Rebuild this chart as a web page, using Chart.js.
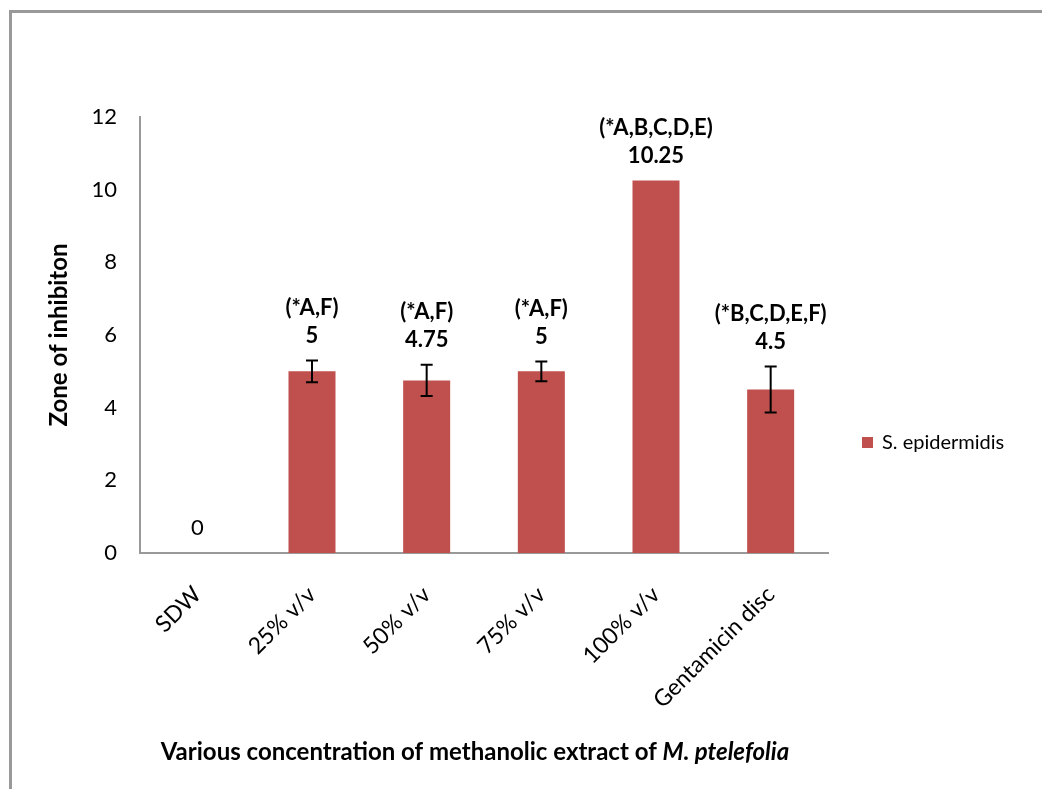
<!DOCTYPE html>
<html>
<head>
<meta charset="utf-8">
<script src="https://cdn.jsdelivr.net/npm/chart.js@4/dist/chart.umd.min.js"></script>
<style>
    html, body { margin: 0; padding: 0; background: #fff; }
    #wrap { position: relative; width: 1042px; height: 789px; }
    #frame {
        position: absolute; left: 9px; top: 10px; right: 0; bottom: 0;
        border-left: 3px solid #999; border-top: 3px solid #999;
        pointer-events: none;
    }
</style>
</head>
<body>
<div id="wrap">
    <canvas id="chart" width="1042" height="789"></canvas>
    <div id="frame"></div>
</div>
<script>
const categories = ["SDW", "25% v/v", "50% v/v", "75% v/v", "100% v/v", "Gentamicin disc"];
const zoneValues = [0, 5, 4.75, 5, 10.25, 4.5];
const errorValues = [0, 0.3, 0.43, 0.27, 0, 0.63];
const significance = ["", "(*A,F)", "(*A,F)", "(*A,F)", "(*A,B,C,D,E)", "(*B,C,D,E,F)"];
const seriesName = "S. epidermidis";
const yMin = 0;
const yMax = 12;
const yStep = 2;

const barColor = "#C0504D";
const fontFamily = "Lato, 'Open Sans', sans-serif";

// error bars, value labels, legend and axis title drawn on top
const extrasPlugin = {
    id: "extras",
    afterDatasetsDraw(chart) {
        const ctx = chart.ctx;
        const x = chart.scales.x;
        const y = chart.scales.y;
        const meta = chart.getDatasetMeta(0);

        ctx.save();
        ctx.strokeStyle = "#000";
        ctx.lineWidth = 2;
        meta.data.forEach((bar, i) => {
            const err = errorValues[i];
            if (!err) return;
            const top = y.getPixelForValue(zoneValues[i] + err);
            const bottom = y.getPixelForValue(zoneValues[i] - err);
            ctx.beginPath();
            ctx.moveTo(bar.x, top);
            ctx.lineTo(bar.x, bottom);
            ctx.moveTo(bar.x - 6, top);
            ctx.lineTo(bar.x + 6, top);
            ctx.moveTo(bar.x - 6, bottom);
            ctx.lineTo(bar.x + 6, bottom);
            ctx.stroke();
        });

        ctx.fillStyle = "#000";
        ctx.textAlign = "center";
        ctx.textBaseline = "middle";
        meta.data.forEach((bar, i) => {
            const v = zoneValues[i];
            const lineY = y.getPixelForValue(v + errorValues[i]) - 25;
            ctx.font = (v === 0 ? "normal" : "bold") + " 22px " + fontFamily;
            ctx.fillText(String(v), bar.x, lineY);
            if (significance[i]) {
                ctx.fillText(significance[i], bar.x, lineY - 28);
            }
        });

        // legend
        ctx.fillStyle = barColor;
        ctx.fillRect(862, 437, 11, 11);
        ctx.fillStyle = "#000";
        ctx.textAlign = "left";
        ctx.font = "20px " + fontFamily;
        ctx.fillText(seriesName, 882, 443);

        // x axis title with italic species name
        const part1 = "Various concentration of methanolic extract of ";
        const part2 = "M. ptelefolia";
        ctx.font = "bold 24px " + fontFamily;
        const w1 = ctx.measureText(part1).width;
        ctx.font = "italic bold 24px " + fontFamily;
        const w2 = ctx.measureText(part2).width;
        const startX = (x.left + x.right) / 2 - 9 - (w1 + w2) / 2;
        ctx.font = "bold 24px " + fontFamily;
        ctx.fillText(part1, startX, 752);
        ctx.font = "italic bold 24px " + fontFamily;
        ctx.fillText(part2, startX + w1, 752);
        ctx.restore();
    }
};

new Chart(document.getElementById("chart"), {
    type: "bar",
    data: {
        labels: categories,
        datasets: [{
            label: seriesName,
            data: zoneValues,
            backgroundColor: barColor,
            borderWidth: 0,
            categoryPercentage: 1,
            barPercentage: 0.41
        }]
    },
    options: {
        responsive: false,
        animation: false,
        events: [],
        layout: {
            padding: { left: 13, top: 117, right: 214, bottom: 0 }
        },
        plugins: {
            legend: { display: false },
            tooltip: { enabled: false }
        },
        scales: {
            x: {
                grid: { display: false, drawTicks: false },
                border: { display: true, color: "#999", width: 2 },
                ticks: {
                    color: "#000",
                    font: { family: fontFamily, size: 23 },
                    maxRotation: 45,
                    minRotation: 45,
                    padding: 28
                },
                afterFit(scale) { scale.height = 789 - 553; }
            },
            y: {
                min: yMin,
                max: yMax,
                grid: { display: false, drawTicks: false },
                border: { display: true, color: "#999", width: 2 },
                ticks: {
                    stepSize: yStep,
                    color: "#000",
                    font: { family: fontFamily, size: 22 },
                    padding: 23
                },
                title: {
                    display: true,
                    text: "Zone of inhibiton",
                    color: "#000",
                    font: { family: fontFamily, size: 24, weight: "bold" },
                    padding: { top: 32, bottom: 0 }
                },
                afterFit(scale) { scale.width = 140 - 13; }
            }
        }
    },
    plugins: [extrasPlugin]
});
</script>
</body>
</html>
